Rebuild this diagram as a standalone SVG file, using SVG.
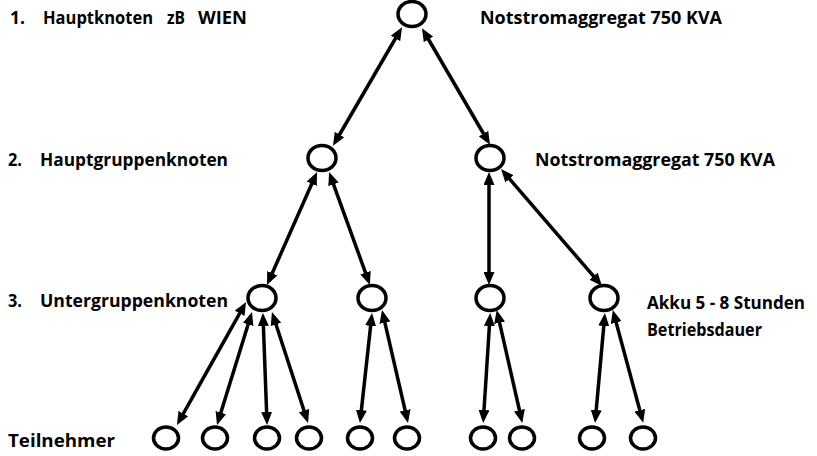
<svg xmlns="http://www.w3.org/2000/svg" width="817" height="456" viewBox="0 0 817 456">
<style>
.lbl{font-family:"Open Sans","Liberation Sans",sans-serif;font-weight:bold;font-size:18px;fill:#000}
.n{fill:#fff;stroke:#000;stroke-width:3.5}
.c{stroke:#000;stroke-width:3.5;fill:none;marker-start:url(#ah);marker-end:url(#ah)}
</style>
<defs>
<marker id="ah" viewBox="0 0 13 11" markerWidth="13" markerHeight="11" refX="8" refY="5.5" orient="auto-start-reverse" markerUnits="userSpaceOnUse">
<path d="M0,0 L13,5.5 L0,11 z" fill="#000"/>
</marker>
</defs>
<rect width="817" height="456" fill="#fff"/>
<g id="connectors">
<line class="c" x1="399.5" y1="31.5" x2="335.5" y2="141.5"/>
<line class="c" x1="424.5" y1="32.5" x2="487.5" y2="140.5"/>
<line class="c" x1="315" y1="176.5" x2="269" y2="280.5"/>
<line class="c" x1="330.8" y1="176.8" x2="368.2" y2="280.2"/>
<line class="c" x1="489" y1="177" x2="489" y2="280"/>
<line class="c" x1="504.3" y1="172.8" x2="598.7" y2="282.2"/>
<line class="c" x1="243.6" y1="306.4" x2="179.4" y2="420.6"/>
<line class="c" x1="250.5" y1="316.8" x2="218.5" y2="420.2"/>
<line class="c" x1="263.1" y1="318" x2="266.9" y2="420"/>
<line class="c" x1="273.5" y1="316.8" x2="306.5" y2="418.2"/>
<line class="c" x1="371.5" y1="318" x2="360.5" y2="418"/>
<line class="c" x1="383.1" y1="314.9" x2="406.9" y2="418.1"/>
<line class="c" x1="489.9" y1="318" x2="483.5" y2="418"/>
<line class="c" x1="497.8" y1="314.9" x2="521.2" y2="418"/>
<line class="c" x1="604.5" y1="318" x2="595.5" y2="418"/>
<line class="c" x1="614.1" y1="314.9" x2="641.9" y2="418"/>
</g>
<g id="n-top"><ellipse class="n" cx="412" cy="14" rx="14" ry="12.5"/></g>
<g id="n-l2a"><ellipse class="n" cx="322" cy="158" rx="14" ry="12.5"/></g>
<g id="n-l2b"><ellipse class="n" cx="490" cy="158" rx="14" ry="12.5"/></g>
<g id="n-l3a"><ellipse class="n" cx="262" cy="298" rx="14" ry="12.5"/></g>
<g id="n-l3b"><ellipse class="n" cx="372" cy="298" rx="14" ry="12.5"/></g>
<g id="n-l3c"><ellipse class="n" cx="490" cy="298" rx="14" ry="12.5"/></g>
<g id="n-l3d"><ellipse class="n" cx="604" cy="298" rx="14" ry="12.5"/></g>
<g id="n-b1"><ellipse class="n" cx="166" cy="438" rx="12.5" ry="11"/></g>
<g id="n-b2"><ellipse class="n" cx="215" cy="438" rx="12.5" ry="11"/></g>
<g id="n-b3"><ellipse class="n" cx="267" cy="438" rx="12.5" ry="11"/></g>
<g id="n-b4"><ellipse class="n" cx="309" cy="438" rx="12.5" ry="11"/></g>
<g id="n-b5"><ellipse class="n" cx="360" cy="438" rx="12.5" ry="11"/></g>
<g id="n-b6"><ellipse class="n" cx="407" cy="438" rx="12.5" ry="11"/></g>
<g id="n-b7"><ellipse class="n" cx="483" cy="438" rx="12.5" ry="11"/></g>
<g id="n-b8"><ellipse class="n" cx="522" cy="438" rx="12.5" ry="11"/></g>
<g id="n-b9"><ellipse class="n" cx="592" cy="438" rx="12.5" ry="11"/></g>
<g id="n-b10"><ellipse class="n" cx="643" cy="438" rx="12.5" ry="11"/></g>
<g id="labels">
<text class="lbl" y="24"><tspan x="10" textLength="15" lengthAdjust="spacingAndGlyphs">1.</tspan><tspan x="43" textLength="110" lengthAdjust="spacingAndGlyphs">Hauptknoten</tspan><tspan x="167" textLength="18" lengthAdjust="spacingAndGlyphs">zB</tspan><tspan x="198" textLength="49" lengthAdjust="spacingAndGlyphs">WIEN</tspan></text>
<text class="lbl" x="480" y="24" textLength="242" lengthAdjust="spacingAndGlyphs">Notstromaggregat 750 KVA</text>
<text class="lbl" y="166"><tspan x="8" textLength="14" lengthAdjust="spacingAndGlyphs">2.</tspan><tspan x="40" textLength="188" lengthAdjust="spacingAndGlyphs">Hauptgruppenknoten</tspan></text>
<text class="lbl" x="535" y="166" textLength="240" lengthAdjust="spacingAndGlyphs">Notstromaggregat 750 KVA</text>
<text class="lbl" y="307"><tspan x="8" textLength="14" lengthAdjust="spacingAndGlyphs">3.</tspan><tspan x="40" textLength="188" lengthAdjust="spacingAndGlyphs">Untergruppenknoten</tspan></text>
<text class="lbl" x="647" y="309" textLength="158" lengthAdjust="spacingAndGlyphs">Akku 5 - 8 Stunden</text>
<text class="lbl" x="647" y="336" textLength="115" lengthAdjust="spacingAndGlyphs">Betriebsdauer</text>
<text class="lbl" x="8" y="447" textLength="107" lengthAdjust="spacingAndGlyphs">Teilnehmer</text>
</g>
</svg>
